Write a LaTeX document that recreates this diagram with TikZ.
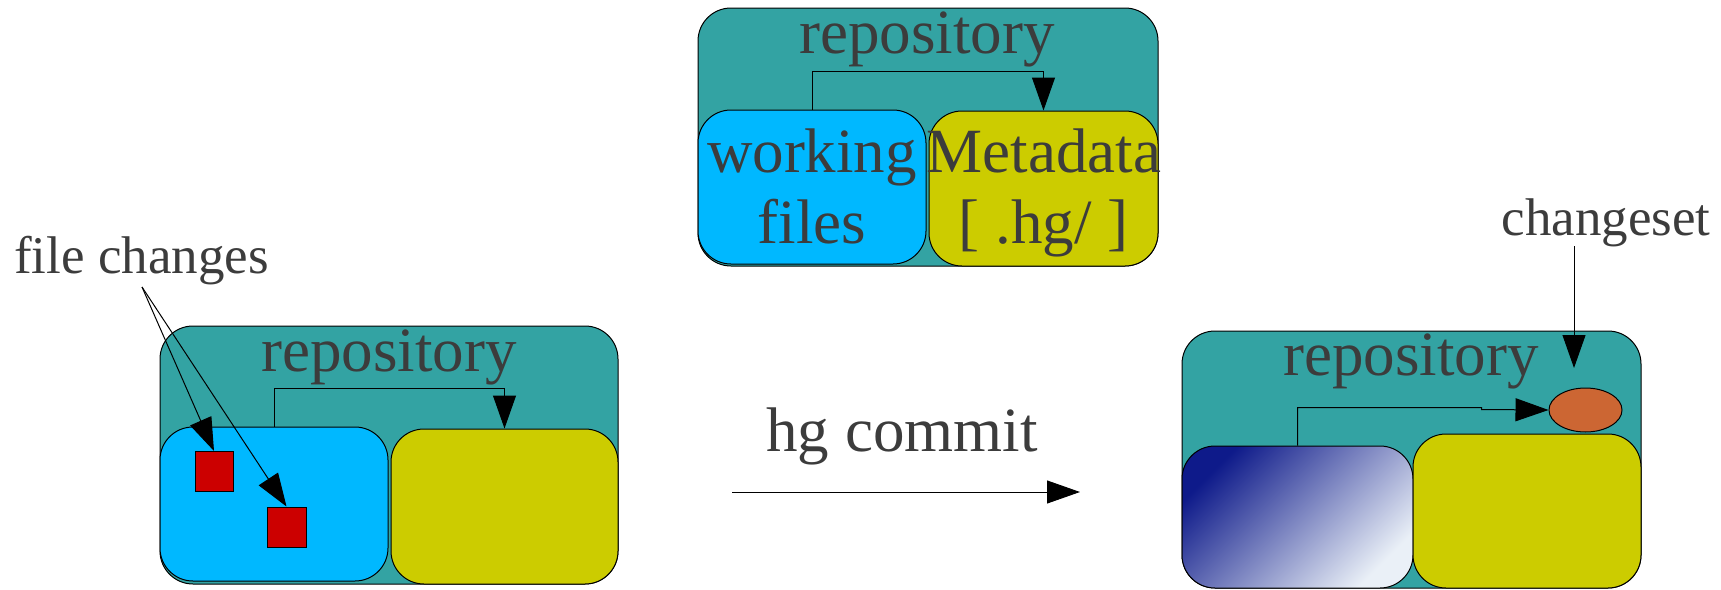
\documentclass[tikz,border=0pt]{standalone}
\usepackage{fontspec}
\setmainfont{Liberation Serif}
\usetikzlibrary{arrows.meta,shapes.geometric}

\definecolor{repoteal}{RGB}{51,163,163}
\definecolor{wfcyan}{RGB}{0,184,255}
\definecolor{metaolive}{RGB}{204,204,0}
\definecolor{changered}{RGB}{204,0,0}
\definecolor{csorange}{RGB}{204,102,51}
\definecolor{inkgray}{RGB}{60,60,60}
\definecolor{navydeep}{RGB}{14,26,138}
\definecolor{paleblue}{RGB}{234,240,247}

\tikzset{
  box/.style={draw=black, line width=1pt, rounded corners=33pt, inner sep=0pt},
  repobox/.style={box, fill=repoteal, minimum width=460pt, minimum height=258pt},
  innerbox/.style={box, minimum width=228pt, minimum height=154pt},
  bigtext/.style={text=inkgray, inner sep=0pt, anchor=base, font=\fontsize{63}{71}\selectfont},
  smalltext/.style={text=inkgray, inner sep=0pt, anchor=base, font=\fontsize{53}{60}\selectfont},
  flow/.style={draw=black, line width=1pt, -{Triangle[length=33pt,width=23pt]}},
  chg/.style={draw=black, fill=changered, line width=1pt, minimum width=38pt, minimum height=40pt, inner sep=0pt}
}

\begin{document}
\begin{tikzpicture}[x=1pt,y=-1pt]
\useasboundingbox (0,0) rectangle (1721,589);

% --- repository layout (top) ---
\node[repobox] (topRepo) at (928,137) {};
\node[innerbox, fill=wfcyan] (topWork) at (812,187) {};
\node[innerbox, fill=metaolive, minimum width=229pt, minimum height=155pt] (topMeta) at (1043.5,188.5) {};
\draw[flow] (topWork.north) -- ++(0,-38) -| (topMeta.north);
\node[bigtext] (topRepoLbl) at (927,53) {repository};
\node[bigtext] (topWorkA) at (812,172) {working};
\node[bigtext] (topWorkB) at (812,243) {files};
\node[bigtext] (topMetaA) at (1044,172) {Metadata};
\node[bigtext] (topMetaB) at (1043.5,243) {[ .hg/ ]};

% --- repository before commit (left) ---
\node[repobox, minimum width=458pt] (leftRepo) at (389,455) {};
\node[innerbox, fill=wfcyan] (leftWork) at (274,504) {};
\node[innerbox, fill=metaolive, minimum width=227pt, minimum height=155pt] (leftMeta) at (504.5,506.5) {};
\draw[flow] (leftWork.north) -- ++(0,-38) -| (leftMeta.north);
\node[bigtext] (leftRepoLbl) at (389,371) {repository};
\node[chg] (chgA) at (214,471.5) {};
\node[chg, minimum width=39pt] (chgB) at (286.5,527) {};
\node[smalltext] (fcLbl) at (141.5,273) {file changes};
\coordinate (fcFoot) at (142,287);
\draw[flow] (fcFoot) -- (chgA.north);
\draw[flow] (fcFoot) -- (chgB.north);

% --- commit step ---
\node[bigtext] (commitLbl) at (902,451) {hg commit};
\coordinate (commitStart) at (732,492);
\coordinate (commitEnd) at (1080,492);
\draw[flow] (commitStart) -- (commitEnd);

% --- repository after commit (right) ---
\node[repobox, minimum width=459pt, minimum height=257pt] (rightRepo) at (1411.5,459.5) {};
\node[box, top color=navydeep, bottom color=paleblue, shading angle=45,
      minimum width=231pt, minimum height=142pt] (rightWork) at (1297.5,517) {};
\node[innerbox, fill=metaolive] (rightMeta) at (1527,511) {};
\node[bigtext] (rightRepoLbl) at (1411,375) {repository};
\node[ellipse, draw=black, fill=csorange, line width=1pt, inner sep=0pt,
      minimum width=73pt, minimum height=44pt] (changeset) at (1585.5,410) {};
\draw[flow] (rightWork.north) -- ++(0,-38) -- ++(184,0) -- ++(0,2) -- (changeset.west);
\node[smalltext] (csLbl) at (1606,235) {changeset};
\coordinate (csFoot) at (1574,246);
\coordinate (csTip) at (1574,368);
\draw[flow] (csFoot) -- (csTip);
\end{tikzpicture}
\end{document}
